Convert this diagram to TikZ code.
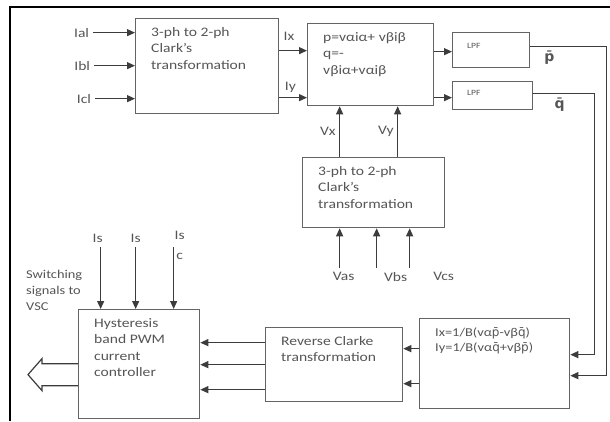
\documentclass[tikz,border=0pt]{standalone}
\usepackage{fontspec}
\setmainfont{Carlito}[FakeStretch=1.2]
\newfontfamily\barfont{DejaVu Sans}
\usetikzlibrary{positioning,arrows.meta}
\usepackage{xcolor}
\definecolor{linegray}{RGB}{60,60,60}
\definecolor{boxgray}{RGB}{100,100,100}
\definecolor{textgray}{RGB}{85,85,85}
\newcommand\barred[1]{{\barfont #1\char"0304}}

\begin{document}
\begin{tikzpicture}[
    x=1pt, y=-1pt,
    font=\fontsize{13}{16.5}\selectfont,
    text=textgray,
    block/.style={draw=boxgray, line width=1.3pt, anchor=north west, inner sep=0pt},
    txt/.style={align=left, inner sep=0pt, below right=9pt and 16pt of #1},
    lpftxt/.style={font=\fontsize{8}{9}\selectfont, inner sep=0pt, below right=11pt and 15pt of #1},
    arr/.style={-{Triangle[length=8pt,width=7pt]}, line width=1.2pt, draw=linegray},
]
\useasboundingbox (0,0) rectangle (610,421);

% Frame
\draw[line width=2.2pt, black] (10,421) -- (10,7) -- (610,7);

% Blocks
\node[block, minimum width=143pt, minimum height=95pt]  (clarkA)    at (135,18)  {};
\node[block, minimum width=126pt, minimum height=82pt]  (pq)        at (307,23)  {};
\node[block, minimum width=77pt,  minimum height=35pt]  (lpfP)      at (452,32)  {};
\node[block, minimum width=80pt,  minimum height=28pt]  (lpfQ)      at (452,81)  {};
\node[block, minimum width=142pt, minimum height=70pt]  (clarkB)    at (302,157) {};
\node[block, minimum width=150pt, minimum height=90pt]  (invpq)     at (419,318) {};
\node[block, minimum width=137pt, minimum height=74pt]  (revclarke) at (265,327) {};
\node[block, minimum width=121pt, minimum height=109pt] (hyst)      at (78,309)  {};

% Block texts
\node[txt=clarkA.north west]    (clarkAtxt) {3-ph to 2-ph\\Clark's\\transformation};
\node[txt=pq.north west]        (pqtxt)     {p=vαiα+ vβiβ\\q=-\\vβiα+vαiβ};
\node[lpftxt=lpfP.north west]   (lpfPtxt)   {LPF};
\node[lpftxt=lpfQ.north west, yshift=2pt] (lpfQtxt) {LPF};
\node[txt=clarkB.north west]    (clarkBtxt) {3-ph to 2-ph\\Clark's\\transformation};
\node[txt=invpq.north west, font=\fontsize{12}{15}\selectfont] (invpqtxt) {Ix=1/B(vα\barred{p}-vβ\barred{q})\\Iy=1/B(vα\barred{q}+vβ\barred{p})};
\node[txt=revclarke.north west] (revtxt)    {Reverse Clarke\\transformation};
\node[txt=hyst.north west]      (hysttxt)   {Hysteresis\\band PWM\\current\\controller};
\node[anchor=north west, align=left, inner sep=0pt, font=\fontsize{12}{16}\selectfont] (swtxt) at (26,270) {Switching\\signals to\\VSC};

% Load currents in
\draw[arr] ([shift={(-42,-33.5)}]clarkA.west) node[left] (ial) {Ial} -- ([shift={(0,-33.5)}]clarkA.west);
\draw[arr] ([shift={(-41,-0.5)}]clarkA.west)  node[left] (ibl) {Ibl} -- ([shift={(0,-0.5)}]clarkA.west);
\draw[arr] ([shift={(-40,32.5)}]clarkA.west)  node[left] (icl) {Icl} -- ([shift={(0,32.5)}]clarkA.west);

% Clark outputs
\draw[arr] ([shift={(0,-15.5)}]clarkA.east) -- node[above=6pt, pos=0.35] (ix) {Ix} ([shift={(0,-14)}]pq.west);
\draw[arr] ([shift={(0,31.5)}]clarkA.east)  -- node[above=1pt, pos=0.4]  (iy) {Iy} ([shift={(0,33)}]pq.west);

% p, q to filters
\draw[arr] ([shift={(0,-13)}]pq.east) -- ([shift={(0,1.5)}]lpfP.west);
\draw[arr] ([shift={(0,33)}]pq.east)  -- ([shift={(0,2)}]lpfQ.west);

% Filtered p, q back down
\draw[arr] ([shift={(0,-3.5)}]lpfP.east) -- node[below, pos=0.25, font=\fontsize{14}{16}\bfseries] (pbar) {\barred{p}} ++(76,0) |- ([shift={(0,12)}]invpq.east);
\draw[arr] ([shift={(0,-2)}]lpfQ.east)   -- node[below, pos=0.43, font=\fontsize{14}{16}\bfseries] (qbar) {\barred{q}} ++(61,0) |- ([shift={(0,-9)}]invpq.east);

% Voltages
\draw[arr] ([shift={(-34,0)}]clarkB.north) -- node[left] (vx) {Vx} ([shift={(-31,0)}]pq.south);
\draw[arr] ([shift={(24,0)}]clarkB.north)  -- node[left] (vy) {Vy} ([shift={(27,0)}]pq.south);
\draw[arr] ([shift={(-34,40)}]clarkB.south) node[below, xshift=4pt]  (vas) {Vas} -- ([shift={(-34,0)}]clarkB.south);
\draw[arr] ([shift={(3,40)}]clarkB.south)   node[below, xshift=19pt] (vbs) {Vbs} -- ([shift={(3,0)}]clarkB.south);
\draw[arr] ([shift={(36,40)}]clarkB.south)  node[below, xshift=34pt] (vcs) {Vcs} -- ([shift={(36,0)}]clarkB.south);

% Reference currents
\draw[arr] ([shift={(0,-15)}]invpq.west) -- ([shift={(0,-16)}]revclarke.east);
\draw[arr] ([shift={(0,20)}]invpq.west)  -- ([shift={(0,19)}]revclarke.east);
\draw[arr] ([shift={(0,-22)}]revclarke.west) -- ([shift={(0,-21.5)}]hyst.east);
\draw[arr] ([shift={(0,0)}]revclarke.west)   -- ([shift={(0,0.5)}]hyst.east);
\draw[arr] ([shift={(0,25)}]revclarke.west)  -- ([shift={(0,25.5)}]hyst.east);

% Sensed source currents
\draw[arr] ([shift={(-38.5,-62)}]hyst.north) node[above, xshift=-3pt] (isa) {Is} -- ([shift={(-38.5,0)}]hyst.north);
\draw[arr] ([shift={(-3.5,-62)}]hyst.north)  node[above] (isb) {Is} -- ([shift={(-3.5,0)}]hyst.north);
\draw[arr] ([shift={(34.5,-62)}]hyst.north)  node[anchor=north, align=center, inner sep=0pt, xshift=6pt, yshift=16pt] (isc) {Is\\[3pt]c} -- ([shift={(34.5,0)}]hyst.north);

% Switching signals out
\draw[line width=1.2pt, draw=linegray] ([shift={(0,-0.5)}]hyst.west) -- ++(-36,0) -- ++(0,-5) -- ++(-14,16) -- ++(14,16) -- ++(0,-5) -- ++(36,0);

\end{tikzpicture}
\end{document}
